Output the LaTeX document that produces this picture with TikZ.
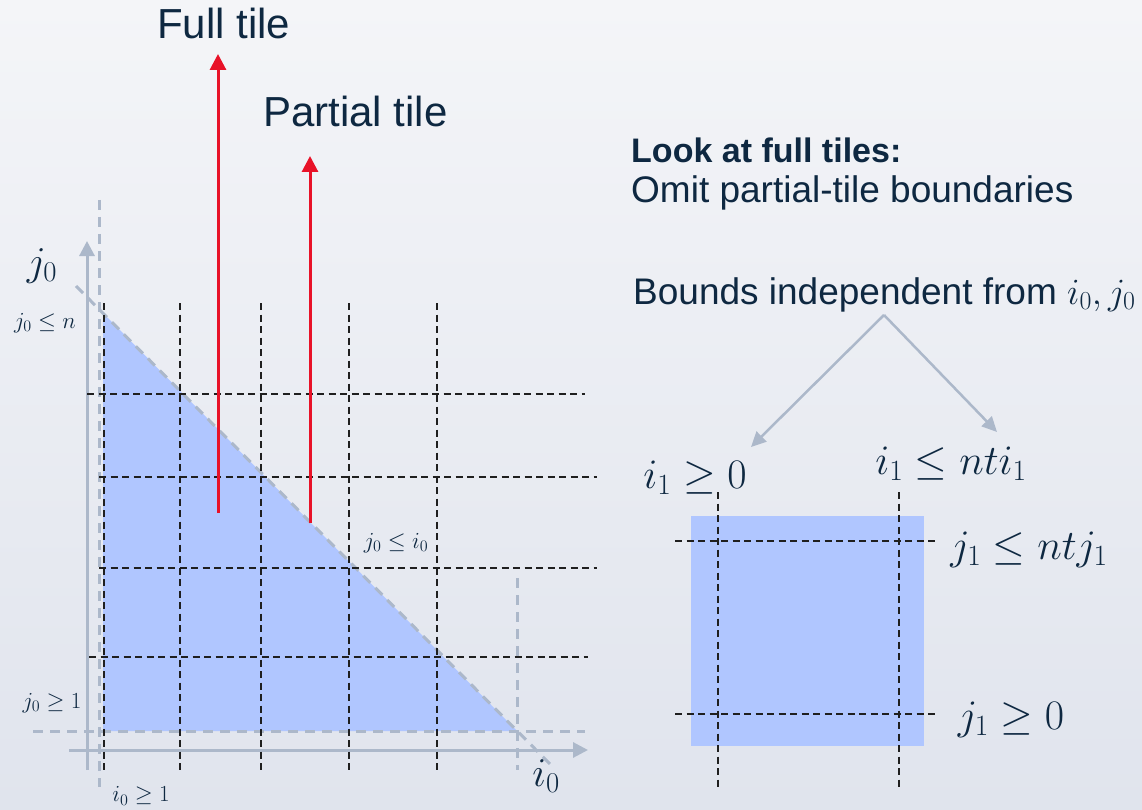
\RequirePackage{fix-cm}
\documentclass[tikz,border=0pt]{standalone}
\usepackage[no-math]{fontspec}
\setmainfont{Liberation Sans}
\usetikzlibrary{arrows.meta}

\definecolor{ink}{RGB}{14,40,65}
\definecolor{tileblue}{RGB}{176,198,255}
\definecolor{boundgray}{RGB}{172,184,202}
\definecolor{tilered}{RGB}{232,18,40}
\definecolor{bgtop}{RGB}{244,245,248}
\definecolor{bgbot}{RGB}{224,228,237}

\begin{document}
\begin{tikzpicture}[x=1pt, y=-1pt,
    tileline/.style={black!88, line width=1.9pt, dash pattern=on 7pt off 4.5pt},
    boundline/.style={boundgray, line width=3pt, dash pattern=on 10pt off 7pt},
    axisline/.style={boundgray, line width=3pt, -{Triangle[length=15pt,width=15pt]}},
    tilearrow/.style={tilered, line width=3pt, -{Triangle[length=16pt,width=16pt]}},
    pointer/.style={boundgray, line width=2.5pt, -{Triangle[length=15pt,width=14pt]}},
    bigtext/.style={text=ink, anchor=base west, inner sep=0pt, font=\fontsize{42}{50}\selectfont},
    sidetext/.style={text=ink, anchor=base west, inner sep=0pt, font=\fontsize{37}{44}\selectfont},
    bigmath/.style={text=ink, inner sep=0pt, font=\fontsize{41}{49}\selectfont},
    sidemath/.style={text=ink, inner sep=0pt, font=\fontsize{42}{50}\selectfont},
    smallmath/.style={text=ink, inner sep=0pt, font=\fontsize{23}{28}\selectfont}]

  % Background
  \shade[shading angle=45, top color=bgtop, bottom color=bgbot] (0,0) rectangle (1142,810);
  \useasboundingbox (0,0) rectangle (1142,810);

  % Iteration space of the triangle
  \fill[tileblue] (103,313) -- (103,731) -- (517,731) -- cycle;

  % Bounds
  \draw[boundline] (99,200) -- (99,787);
  \draw[boundline] (33,731) -- (585,731);
  \draw[boundline] (76,286) -- (550,764);
  \draw[boundline] (517,578) -- (517,770);

  % Axes
  \draw[axisline] (69,750) -- (588,750);
  \draw[axisline] (87,770) -- (87,241);

  % Tile boundaries
  \foreach \x in {104,180,261,349,437}
    \draw[tileline] (\x,303) -- (\x,770);
  \foreach \y/\a/\b in {394/87/585, 477/99/597, 568/99/597, 657/89/588}
    \draw[tileline] (\a,\y) -- (\b,\y);

  % Tile labels
  \node[bigtext] (full) at (157,39) {Full tile};
  \node[bigtext] (partial) at (263,127) {Partial tile};
  \coordinate (fullfoot) at (218,513);
  \coordinate (fulltip) at (218,54);
  \coordinate (partialfoot) at (310,523);
  \coordinate (partialtip) at (310,156);
  \draw[tilearrow] (fullfoot) -- (fulltip);
  \draw[tilearrow] (partialfoot) -- (partialtip);

  % Axis and bound labels
  \node[bigmath] (jaxis) at (42,266) {$j_0$};
  \node[bigmath] (iaxis) at (546,776) {$i_0$};
  \node[smallmath] (jupper) at (45,323) {$j_0 \leq n$};
  \node[smallmath] (jlower) at (52,703) {$j_0 \geq 1$};
  \node[smallmath] (ilower) at (141,796) {$i_0 \geq 1$};
  \node[smallmath] (diag) at (396,543) {$j_0 \leq i_0$};

  % Right-hand side text
  \node[sidetext, font=\fontsize{34}{41}\selectfont\bfseries] (look) at (631,163) {Look at full tiles:};
  \node[sidetext] (omit) at (631,203) {Omit partial-tile boundaries};
  \node[sidetext] (bounds) at (633,304) {Bounds independent from $i_0, j_0$};

  % Full tile
  \fill[tileblue] (691,516) rectangle (924,746);
  \draw[tileline] (718,492) -- (718,791);
  \draw[tileline] (899,492) -- (899,791);
  \draw[tileline] (675,541) -- (935,541);
  \draw[tileline] (675,714) -- (935,714);

  \node[sidemath] (ilow) at (695,478) {$i_1 \geq 0$};
  \node[sidemath] (iup) at (951,464) {$i_1 \leq nti_1$};
  \node[sidemath] (jup) at (1029,550) {$j_1 \leq ntj_1$};
  \node[sidemath] (jlow) at (1011,720) {$j_1 \geq 0$};

  \coordinate (split) at (884,315);
  \coordinate (ilowtip) at (751,447);
  \coordinate (iuptip) at (997,432);
  \draw[pointer] (split) -- (ilowtip);
  \draw[pointer] (split) -- (iuptip);
\end{tikzpicture}
\end{document}
